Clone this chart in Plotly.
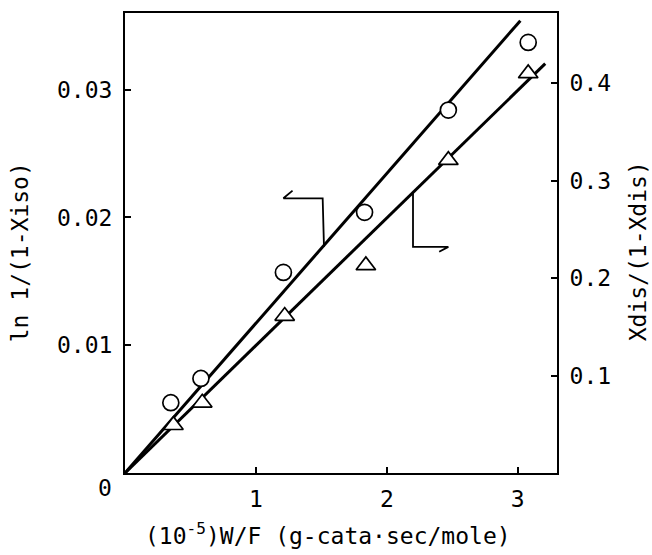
import plotly.graph_objects as go

# Data
iso_x = [0.35, 0.58, 1.21, 1.83, 2.47, 3.08]
iso_y = [0.0055, 0.0074, 0.0157, 0.0204, 0.0284, 0.0337]   # left axis

dis_x = [0.37, 0.59, 1.22, 1.84, 2.47, 3.08]
dis_y = [0.049, 0.072, 0.161, 0.213, 0.321, 0.410]        # right axis

iso_fit_x = [0.0, 3.02]
iso_fit_y = [0.0, 0.0354]
dis_fit_x = [0.0, 3.21]
dis_fit_y = [0.0, 0.420]

x_ticks = [1, 2, 3]
x_ticktext = ["1", "2", "3"]
y_ticks = [0.01, 0.02, 0.03]
y_ticktext = ["0.01", "0.02", "0.03"]
y2_ticks = [0.1, 0.2, 0.3, 0.4]
y2_ticktext = ["0.1", "0.2", "0.3", "0.4"]

# bracket indicators (data coords)
iso_bracket_x = [1.52, 1.51, 1.21, 1.28]
iso_bracket_y = [0.0177, 0.0215, 0.0215, 0.0221]
dis_bracket_x = [2.20, 2.20, 2.47, 2.40]
dis_bracket_y = [0.288, 0.232, 0.232, 0.227]

FONT = "DejaVu Sans Mono"
fs = 23

fig = go.Figure()
fig.add_trace(go.Scatter(x=iso_fit_x, y=iso_fit_y, mode="lines",
                         line=dict(color="black", width=3), showlegend=False))
fig.add_trace(go.Scatter(x=dis_fit_x, y=dis_fit_y, mode="lines", yaxis="y2",
                         line=dict(color="black", width=3), showlegend=False))
fig.add_trace(go.Scatter(x=iso_bracket_x, y=iso_bracket_y, mode="lines",
                         line=dict(color="black", width=1.8), showlegend=False))
fig.add_trace(go.Scatter(x=dis_bracket_x, y=dis_bracket_y, mode="lines", yaxis="y2",
                         line=dict(color="black", width=1.8), showlegend=False))
fig.add_trace(go.Scatter(x=iso_x, y=iso_y, mode="markers",
                         marker=dict(symbol="circle", size=16, color="white",
                                     line=dict(color="black", width=1.7)),
                         showlegend=False))
fig.add_trace(go.Scatter(x=dis_x, y=dis_y, mode="markers", yaxis="y2",
                         marker=dict(symbol="triangle-up", size=17, color="white",
                                     line=dict(color="black", width=1.7)),
                         showlegend=False))

axis_common = dict(showgrid=False, zeroline=False, showline=True, linecolor="black",
                   linewidth=2, ticks="inside", ticklen=6, tickwidth=1.5,
                   tickcolor="black", tickfont=dict(family=FONT, size=fs, color="black"))

fig.update_layout(
    width=652, height=555,
    margin=dict(l=125, r=95, t=13, b=82),
    paper_bgcolor="white", plot_bgcolor="white",
    font=dict(family=FONT, size=fs, color="black"),
    xaxis=dict(range=[0, 3.30], tickvals=x_ticks, ticktext=x_ticktext,
               mirror=True, ticklabelstandoff=4, **axis_common),
    yaxis=dict(range=[0, 0.0360], tickvals=y_ticks, ticktext=y_ticktext,
               ticklabelstandoff=6, **axis_common),
    yaxis2=dict(range=[0, 0.472], tickvals=y2_ticks, ticktext=y2_ticktext,
                overlaying="y", side="right", ticklabelstandoff=6, **axis_common),
)

ann = dict(xref="paper", yref="paper", showarrow=False, xanchor="center",
           yanchor="middle", font=dict(family=FONT, size=fs, color="black"))
fig.add_annotation(text="0", x=-0.046, y=-0.033, **ann)
fig.add_annotation(text="(10<sup>-5</sup>)W/F (g-cata·sec/mole)", x=0.47, y=-0.133, **ann)
fig.add_annotation(text="ln 1/(1-Xiso)", x=-0.243, y=0.48, textangle=-90, **ann)
fig.add_annotation(text="Xdis/(1-Xdis)", x=1.1875, y=0.482, textangle=-90, **ann)

fig.write_html("out.html")
